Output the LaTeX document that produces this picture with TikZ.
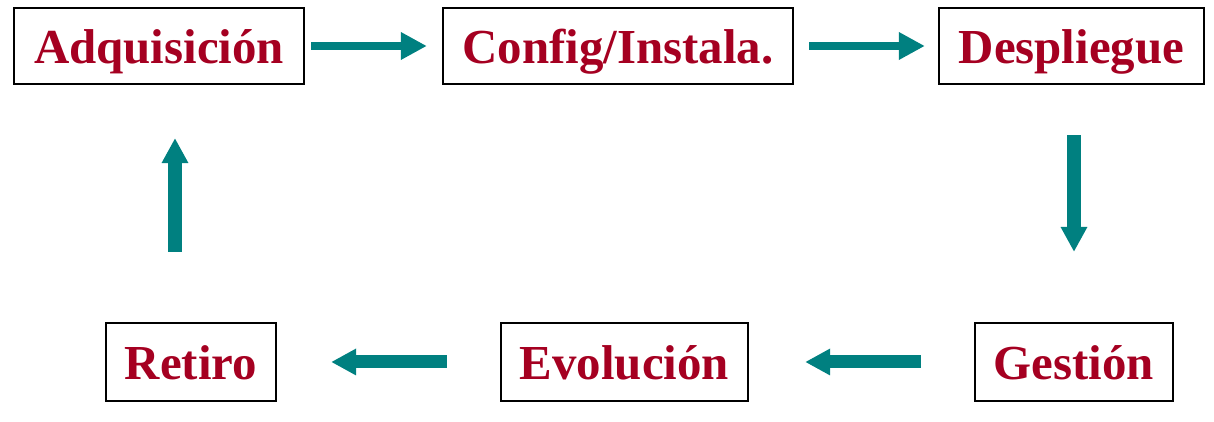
\documentclass[tikz,border=0pt]{standalone}
\usepackage{fontspec}
\setmainfont{Liberation Serif}
\usetikzlibrary{arrows.meta}
\usetikzlibrary{calc}
\definecolor{etapa}{HTML}{A50021}
\definecolor{flecha}{HTML}{008080}
\tikzset{
	paso/.style={draw,line width=0.6pt,inner sep=0pt,minimum height=0.76cm,
		text height=0.345cm,text depth=0pt,
		text=etapa,font=\fontsize{13.9}{16}\selectfont\bfseries},
	edge/.style={draw=flecha,line width=0.08cm,-{Triangle[length=0.26cm,width=0.26cm]}},
	edge gruesa/.style={draw=flecha,line width=0.13cm,-{Triangle[length=0.25cm,width=0.25cm]}}
}
\begin{document}
\begin{tikzpicture}[x=0.01cm,y=-0.01cm]
		\useasboundingbox (0,0) rectangle (1214,422);
		\node[paso,minimum width=2.90cm] (adq) at (159, 46) {Adquisición};
		\node[paso,minimum width=3.50cm] (conf) at (618, 46) {Config/Instala.};
		\node[paso,minimum width=2.65cm] (desp) at (1071.5, 46) {Despliegue};
		\node[paso,minimum width=1.98cm,minimum height=0.78cm] (gest) at (1074, 362) {Gestión};
		\node[paso,minimum width=2.47cm,minimum height=0.78cm] (evol) at (624.5, 362) {Evolución};
		\node[paso,minimum width=1.70cm,minimum height=0.78cm] (ret) at (191, 362) {Retiro};
		
		\draw[edge,shorten <=0.06cm,shorten >=0.15cm] (adq.east) -- (conf.west);
		\draw[edge,shorten <=0.15cm,shorten >=0.13cm] (conf.east) -- (desp.west);
		\draw[edge gruesa,shorten <=0.50cm,shorten >=0.70cm] (gest.north |- desp.south) -- (gest.north);
		\draw[edge gruesa,shorten <=0.53cm,shorten >=0.56cm] (gest.west) -- (evol.east);
		\draw[edge gruesa,shorten <=0.53cm,shorten >=0.54cm] (evol.west) -- (ret.east);
		\coordinate (sube) at ($(ret.north)!0.5!(adq.south)$);
		\draw[edge gruesa,shorten <=0.70cm,shorten >=0.53cm] (sube |- ret.north) -- (sube |- adq.south);
		\end{tikzpicture}
\end{document}
